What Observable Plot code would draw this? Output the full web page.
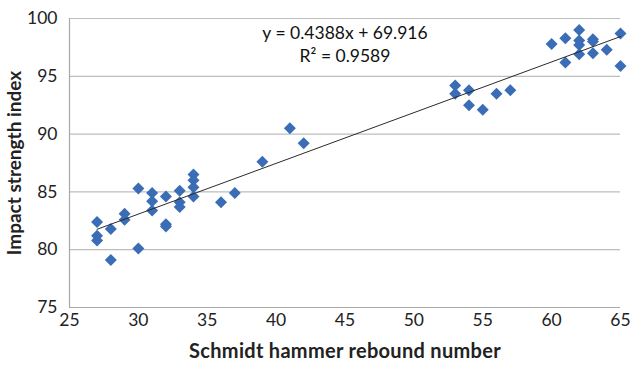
<!DOCTYPE html>
<html><head><meta charset="utf-8">
<script src="https://cdn.jsdelivr.net/npm/d3@7"></script>
<script src="https://cdn.jsdelivr.net/npm/@observablehq/plot@0.6"></script>
<style>
body{margin:0;background:#fff;}
#chart svg{font-family:Lato, "Open Sans", sans-serif;}
g[aria-label="x-axis label"] text{font-weight:bold;font-size:20px;letter-spacing:0.3px;}
g[aria-label="y-axis label"] text{font-weight:bold;font-size:19px;}
</style></head>
<body><div id="chart"></div>
<script>
const rebound = [27,27,27,28,28,29,29,30,30,31,31,31,32,32,32,33,33,33,34,34,34,34,36,37,39,41,42,53,53,54,54,55,56,57,60,61,61,62,62,62,62,63,63,63,64,65,65];
const impact  = [82.4,81.2,80.8,81.8,79.1,83.1,82.6,85.3,80.1,84.9,84.2,83.4,84.6,82.2,82.0,85.1,84.1,83.7,86.5,86.0,85.4,84.6,84.1,84.9,87.6,90.5,89.2,94.2,93.5,93.8,92.5,92.1,93.5,93.8,97.8,98.3,96.2,99.0,98.1,97.7,96.9,98.2,98.0,97.0,97.3,98.7,95.9];
const slope = 0.4388, intercept = 69.916;
const xTicks = [25,30,35,40,45,50,55,60,65];
const yTicks = [75,80,85,90,95,100];
const eqText = ["y = 0.4388x + 69.916", "R² = 0.9589"];
const eqY = [98.7, 96.7];
const eqX = 45;

const points = rebound.map((x,i)=>({x, y: impact[i]}));
const xr = d3.extent(rebound);
const trend = xr.map(x=>({x, y: slope*x+intercept}));
const eq = eqText.map((t,i)=>({t, x: eqX, y: eqY[i]}));

const chart = Plot.plot({
  width: 632, height: 366,
  marginLeft: 69, marginRight: 12, marginTop: 18, marginBottom: 59,
  style: {fontFamily: "Lato, 'Open Sans', sans-serif", fontSize: "17px", color: "#222"},
  x: {domain: [25,65]},
  y: {domain: [75,100]},
  marks: [
    Plot.gridY(yTicks, {stroke: "#bdbdbd", strokeOpacity: 1, strokeWidth: 1.2}),
    Plot.ruleX([25], {stroke: "#a8a8a8", strokeWidth: 1.2}),
    Plot.ruleY([75], {stroke: "#a8a8a8", strokeWidth: 1.2}),
    Plot.axisX(xTicks, {tickSize: 0, tickPadding: 6, label: "Schmidt hammer rebound number", labelAnchor: "center", labelOffset: 50, labelArrow: "none", fontSize: 17.5}),
    Plot.axisY(yTicks, {tickSize: 0, tickPadding: 12, label: "Impact strength index", labelAnchor: "center", labelOffset: 62, labelArrow: "none", fontSize: 17.5}),
    Plot.dot(points, {x: "x", y: "y", symbol: "diamond2", r: 5.4, fill: "#3a6db6", stroke: "none"}),
    Plot.line(trend, {x: "x", y: "y", stroke: "#2a2a2a", strokeWidth: 1}),
    Plot.text(eq, {x: "x", y: "y", text: "t", fontSize: 17.5, fill: "#111"})
  ]
});
document.getElementById("chart").appendChild(chart);
</script></body></html>
